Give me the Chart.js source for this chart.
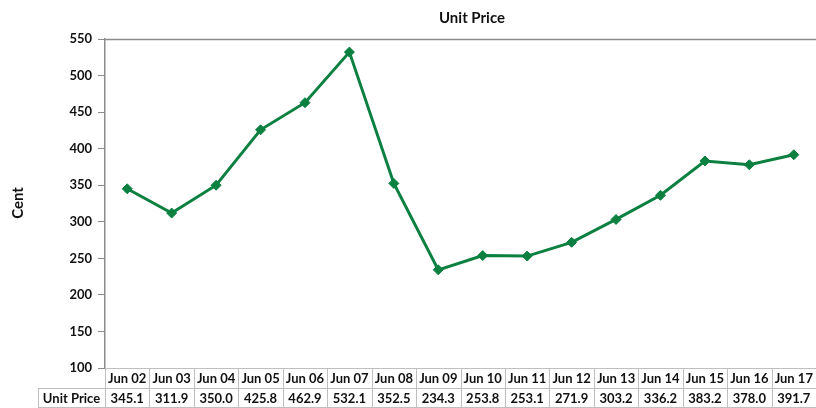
<!DOCTYPE html>
<html>
<head>
<meta charset="utf-8">
<script src="https://cdn.jsdelivr.net/npm/chart.js@4/dist/chart.umd.min.js"></script>
<style>
html,body{margin:0;padding:0;background:#fff;}
#wrap{width:816px;height:408px;position:relative;}
</style>
</head>
<body>
<div id="wrap"><canvas id="c" width="816" height="408"></canvas></div>
<script>
const categories = ["Jun 02","Jun 03","Jun 04","Jun 05","Jun 06","Jun 07","Jun 08","Jun 09","Jun 10","Jun 11","Jun 12","Jun 13","Jun 14","Jun 15","Jun 16","Jun 17"];
const unitPrice = [345.1,311.9,350.0,425.8,462.9,532.1,352.5,234.3,253.8,253.1,271.9,303.2,336.2,383.2,378.0,391.7];
const seriesName = "Unit Price";
const chartTitle = "Unit Price";
const yAxisTitle = "Cent";
const yMin = 100, yMax = 550, yStep = 50;

const FONT = "Lato, 'Open Sans', sans-serif";
const GREEN = "#0b8040";
const GRID = "#bfbfbf";
const AXIS = "#8c8c8c";

const tablePlugin = {
  id: 'tablePlugin',
  afterDraw(chart) {
    const ctx = chart.ctx;
    const ca = chart.chartArea;
    const xs = chart.scales.x;
    const n = categories.length;
    const w = (ca.right - ca.left) / n;
    const top = ca.bottom, mid = ca.bottom + 20, bot = ca.bottom + 40;
    const labelLeft = 38;
    ctx.save();
    // top border of plot area
    ctx.strokeStyle = AXIS;
    ctx.lineWidth = 1.5;
    ctx.beginPath();
    ctx.moveTo(ca.left, ca.top + 0.5);
    ctx.lineTo(ca.right, ca.top + 0.5);
    ctx.stroke();
    // table grid
    ctx.strokeStyle = GRID;
    ctx.lineWidth = 1;
    ctx.beginPath();
    ctx.moveTo(ca.left, top + 0.5); ctx.lineTo(ca.right, top + 0.5);
    ctx.moveTo(labelLeft, mid + 0.5); ctx.lineTo(ca.right, mid + 0.5);
    ctx.moveTo(labelLeft, bot - 0.5); ctx.lineTo(ca.right, bot - 0.5);
    ctx.moveTo(labelLeft + 0.5, mid); ctx.lineTo(labelLeft + 0.5, bot);
    for (let i = 0; i <= n; i++) {
      const xp = Math.round(ca.left + i * w) + 0.5;
      ctx.moveTo(xp, top); ctx.lineTo(xp, bot);
    }
    ctx.stroke();
    // text
    ctx.fillStyle = "#111";
    ctx.font = "bold 13px " + FONT;
    ctx.textAlign = "center";
    ctx.textBaseline = "middle";
    for (let i = 0; i < n; i++) {
      const cx = xs.getPixelForValue(i);
      ctx.fillText(categories[i], cx, top + 10.5);
      ctx.fillText(unitPrice[i].toFixed(1), cx, mid + 10.5);
    }
    ctx.fillText(seriesName, (labelLeft + ca.left) / 2, mid + 10.5);
    // title
    ctx.font = "bold 15px " + FONT;
    ctx.fillText(chartTitle, 472, 18);
    // y axis title
    ctx.translate(18, 203);
    ctx.rotate(-Math.PI / 2);
    ctx.fillText(yAxisTitle, 0, 0);
    ctx.restore();
  }
};

new Chart(document.getElementById('c'), {
  type: 'line',
  data: {
    labels: categories,
    datasets: [{
      label: seriesName,
      data: unitPrice,
      borderColor: GREEN,
      backgroundColor: GREEN,
      borderWidth: 3,
      pointStyle: 'rectRot',
      pointRadius: 5,
      pointBorderWidth: 1,
      pointBackgroundColor: GREEN,
      pointBorderColor: GREEN,
      tension: 0
    }]
  },
  options: {
    responsive: false,
    animation: false,
    devicePixelRatio: 1,
    layout: { autoPadding: false, padding: { left: 0, right: 0, top: 39, bottom: 40 } },
    plugins: {
      legend: { display: false },
      title: { display: false },
      tooltip: { enabled: false }
    },
    scales: {
      x: {
        type: 'category',
        offset: true,
        display: false
      },
      y: {
        min: yMin,
        max: yMax,
        afterFit(scale) { scale.width = 105; },
        ticks: {
          stepSize: yStep,
          color: "#111",
          font: { family: FONT, size: 13, weight: 'bold' },
          padding: 6
        },
        grid: {
          drawOnChartArea: false,
          drawTicks: true,
          tickLength: 7,
          color: AXIS
        },
        border: { display: true, color: AXIS, width: 1.5 }
      }
    }
  },
  plugins: [tablePlugin]
});
</script>
</body>
</html>
